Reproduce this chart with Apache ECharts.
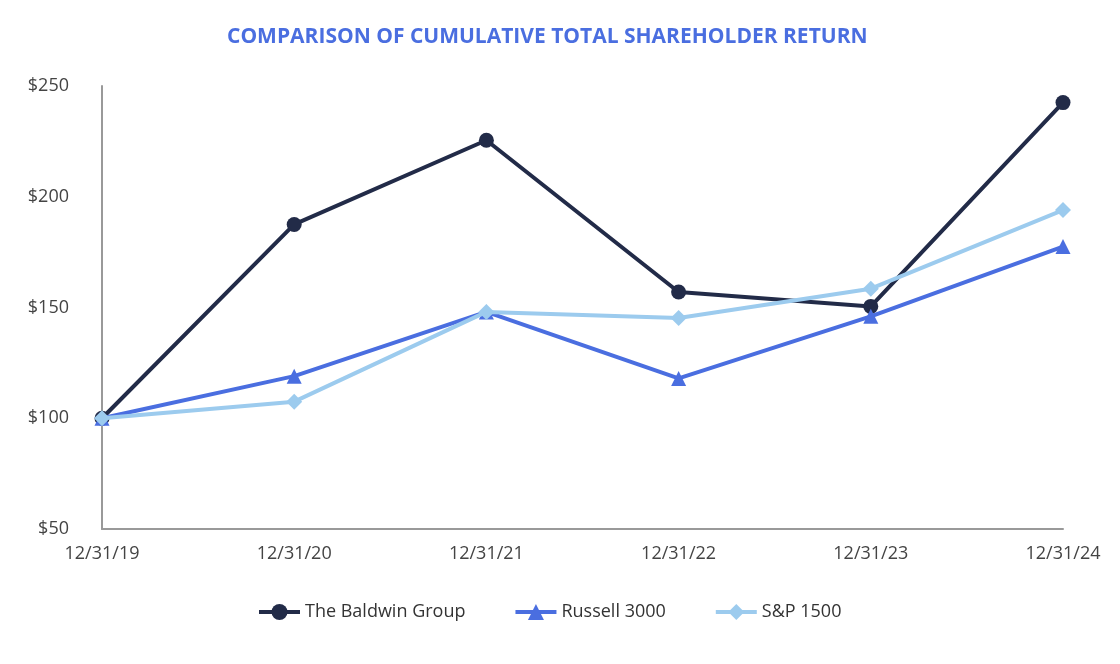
<!DOCTYPE html>
<html>
<head>
<meta charset="utf-8">
<script src="https://cdn.jsdelivr.net/npm/echarts@6/dist/echarts.min.js"></script>
<style>
  html, body { margin: 0; padding: 0; background: #fff; }
  #chart { width: 1120px; height: 664px; }
</style>
</head>
<body>
<div id="chart"></div>
<script>
  // 数据
  let dates = ['12/31/19', '12/31/20', '12/31/21', '12/31/22', '12/31/23', '12/31/24'];
  let baldwin = [100, 187.5, 225.5, 157, 150.5, 242.5];
  let russell = [100, 119, 148, 118, 146, 177.5];
  let sp1500 = [100, 107.5, 148, 145.3, 158.5, 194];

  let chart = echarts.init(document.getElementById('chart'));
  let font = '"Open Sans", "Noto Sans", sans-serif';

  let option = {
    animation: false,
    title: {
      text: 'COMPARISON OF CUMULATIVE TOTAL SHAREHOLDER RETURN',
      left: 222,
      top: 22,
      textStyle: {
        color: '#4a6ee0',
        fontFamily: font,
        fontWeight: 'bold',
        fontSize: 21
      }
    },
    legend: {
      bottom: 38,
      left: 252,
      itemWidth: 41,
      itemHeight: 20,
      itemGap: 48,
      lineStyle: { width: 4 },
      textStyle: { color: '#333', fontFamily: font, fontSize: 18 },
      data: ['The Baldwin Group', 'Russell 3000', 'S&P 1500']
    },
    grid: { left: 102, right: 57, top: 86, bottom: 135 },
    xAxis: {
      type: 'category',
      data: dates,
      boundaryGap: false,
      axisLine: { lineStyle: { color: '#999', width: 2 } },
      axisTick: { show: false },
      axisLabel: { color: '#444', fontFamily: font, fontSize: 18, margin: 16 }
    },
    yAxis: {
      type: 'value',
      min: 50,
      max: 250,
      interval: 50,
      axisLine: { show: true, lineStyle: { color: '#999', width: 2 } },
      axisTick: { show: false },
      splitLine: { show: false },
      axisLabel: {
        color: '#444', fontFamily: font, fontSize: 18, margin: 33,
        formatter: '${value}'
      }
    },
    series: [
      {
        name: 'Russell 3000',
        type: 'line',
        data: russell,
        symbol: 'triangle',
        symbolSize: 15,
        z: 3,
        lineStyle: { color: '#4a6ee0', width: 4 },
        itemStyle: { color: '#4a6ee0' }
      },
      {
        name: 'S&P 1500',
        type: 'line',
        data: sp1500,
        symbol: 'diamond',
        symbolSize: 16,
        z: 4,
        lineStyle: { color: '#9ccbee', width: 4 },
        itemStyle: { color: '#9ccbee' }
      },
      {
        name: 'The Baldwin Group',
        type: 'line',
        data: baldwin,
        symbol: 'circle',
        symbolSize: 15,
        z: 2,
        lineStyle: { color: '#222b48', width: 4 },
        itemStyle: { color: '#222b48' }
      }
    ]
  };
  chart.setOption(option);
</script>
</body>
</html>
